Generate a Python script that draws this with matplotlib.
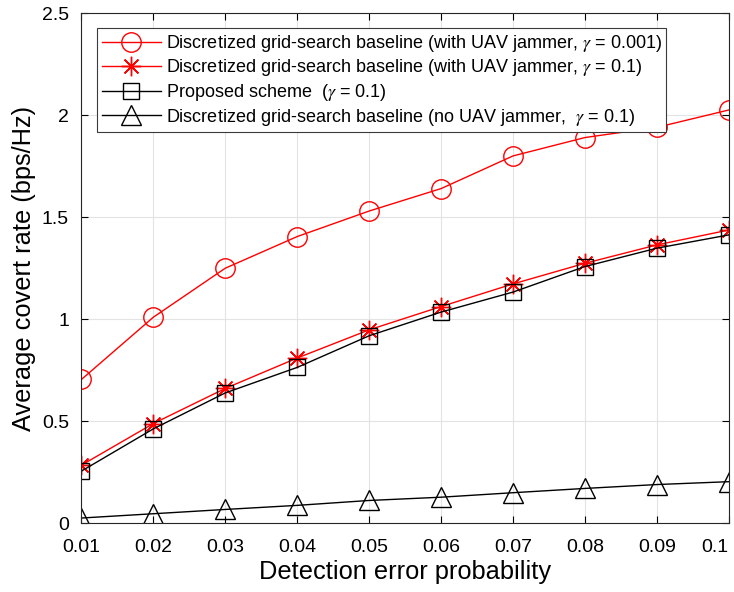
import matplotlib
matplotlib.use('Agg')
import matplotlib.pyplot as plt

plt.rcParams['font.family'] = ['Liberation Sans', 'DejaVu Sans']
plt.rcParams['mathtext.fontset'] = 'stix'

# detection error probability
x_vals = [0.01, 0.02, 0.03, 0.04, 0.05, 0.06, 0.07, 0.08, 0.09, 0.1]

# average covert rate for each scheme
jam_g0001 = [0.705, 1.01, 1.25, 1.405, 1.53, 1.64, 1.80, 1.89, 1.94, 2.025]
jam_g01 = [0.285, 0.489, 0.661, 0.81, 0.948, 1.062, 1.173, 1.274, 1.364, 1.437]
proposed = [0.256, 0.463, 0.639, 0.764, 0.919, 1.035, 1.133, 1.258, 1.348, 1.413]
no_jam = [0.026, 0.047, 0.068, 0.088, 0.112, 0.128, 0.15, 0.171, 0.19, 0.204]

labels = [
    r'Discretized grid-search baseline (with UAV jammer, $\gamma$ = 0.001)',
    r'Discretized grid-search baseline (with UAV jammer, $\gamma$ = 0.1)',
    r'Proposed scheme  ($\gamma$ = 0.1)',
    r'Discretized grid-search baseline (no UAV jammer,  $\gamma$ = 0.1)',
]

fig = plt.figure(figsize=(7.34, 5.92), dpi=100)
ax = fig.add_axes([0.111, 0.116, 0.882, 0.862])

ax.plot(x_vals, jam_g0001, color='red', lw=1, marker='o', ms=14,
        mfc='none', mec='red', mew=1, label=labels[0])
ax.plot(x_vals, jam_g01, color='red', lw=1, marker=(8, 2, 0), ms=14,
        mfc='red', mec='red', mew=1, label=labels[1])
ax.plot(x_vals, proposed, color='black', lw=1, marker='s', ms=11,
        mfc='none', mec='black', mew=1, label=labels[2])
ax.plot(x_vals, no_jam, color='black', lw=1, marker='^', ms=15,
        mfc='none', mec='black', mew=1, label=labels[3])

ax.set_xlim(0.01, 0.1)
ax.set_ylim(0, 2.5)
ax.set_xticks(x_vals)
ax.set_xticklabels(['0.01', '0.02', '0.03', '0.04', '0.05', '0.06',
                    '0.07', '0.08', '0.09', '0.1'])
ax.set_yticks([0, 0.5, 1, 1.5, 2, 2.5])
ax.set_yticklabels(['0', '0.5', '1', '1.5', '2', '2.5'])
# keep the last x label inside the figure, as MATLAB does
ax.get_xticklabels()[-1].set_ha('right')

ax.grid(True, color='#e3e3e3', lw=0.8)
ax.set_axisbelow(True)
ax.tick_params(direction='in', labelsize=14, length=5, top=True, right=True,
               labeltop=False, labelright=False)
ax.tick_params(axis='x', pad=11)
ax.tick_params(axis='y', pad=9)
for s in ax.spines.values():
    s.set_linewidth(0.8)
    s.set_color('#262626')

ax.set_xlabel('Detection error probability', fontsize=18.3, labelpad=3)
ax.set_ylabel('Average covert rate (bps/Hz)', fontsize=18.3, labelpad=4)

leg = ax.legend(loc='upper left', bbox_to_anchor=(0.024, 0.97), fontsize=13,
                fancybox=False, edgecolor='#3a3a3a', framealpha=1,
                handlelength=3.3, handletextpad=0.25, borderpad=0.25,
                labelspacing=0.2, borderaxespad=0)
leg.get_frame().set_linewidth(0.8)

fig.savefig('out.png', dpi=100)
